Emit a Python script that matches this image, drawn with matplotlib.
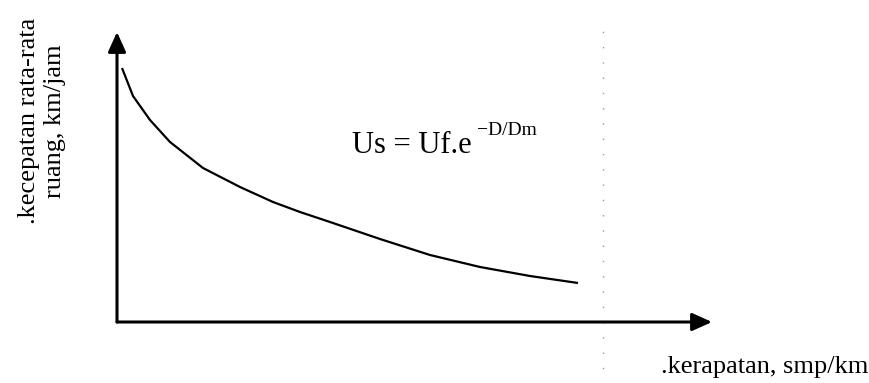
import matplotlib
matplotlib.use('Agg')
import matplotlib.pyplot as plt

# curve (density D vs space mean speed Us, arbitrary units)
density = [5, 16, 33, 53, 86, 123, 156, 183, 213, 263, 313, 363, 413, 461]
speed = [254, 226, 202, 180, 154, 135, 120, 110, 100, 83, 67, 55, 46, 39]
jam_line = 486  # faint dotted vertical line

y_label = '.kecepatan rata-rata\nruang, km/jam'
x_label = '.kerapatan, smp/km'
formula = 'Us = Uf.e'
formula_sup = '\u2212D/Dm'

plt.rcParams['font.family'] = ['Liberation Serif', 'DejaVu Serif']

W, H = 870, 383
fig = plt.figure(figsize=(W / 100, H / 100), dpi=100)
fig.patch.set_facecolor('white')

# origin of the axes sits at pixel (117, 322), arrows end at x=712 and y=32
ax = fig.add_axes([117 / W, (H - 322) / H, (712 - 117) / W, (322 - 32) / H])
ax.set_xlim(0, 595)
ax.set_ylim(0, 290)
for s in ax.spines.values():
    s.set_visible(False)
ax.set_xticks([])
ax.set_yticks([])
ax.patch.set_alpha(0)

# axes with arrow heads
arrow_kw = dict(arrowstyle='-|>,head_length=0.6,head_width=0.27', lw=2.2,
                color='black', mutation_scale=20, shrinkA=0, shrinkB=0)
ax.annotate('', xy=(1, 0), xytext=(0, 0), xycoords='axes fraction',
            arrowprops=arrow_kw)
ax.annotate('', xy=(0, 1), xytext=(0, 0), xycoords='axes fraction',
            arrowprops=arrow_kw)

# the curve
ax.plot(density, speed, color='black', lw=1.6, solid_capstyle='butt')

# faint dotted vertical line
ax.axvline(jam_line, ymin=-0.22, ymax=1.02, color='#999999', lw=1,
           linestyle=(0, (1, 10)), clip_on=False)

# formula
fig.text(352 / W, 1 - 153 / H, formula, fontsize=22, va='baseline', ha='left')
fig.text(477 / W, 1 - 122 / H, formula_sup, fontsize=14, va='top', ha='left')

# labels
fig.text(42 / W, 1 - 121 / H, y_label, fontsize=19, rotation=90,
         ha='center', va='center', multialignment='center', linespacing=1.25)
fig.text(868 / W, 1 - 373 / H, x_label, fontsize=19, ha='right', va='baseline')

fig.savefig('out.png', dpi=100, facecolor='white')
